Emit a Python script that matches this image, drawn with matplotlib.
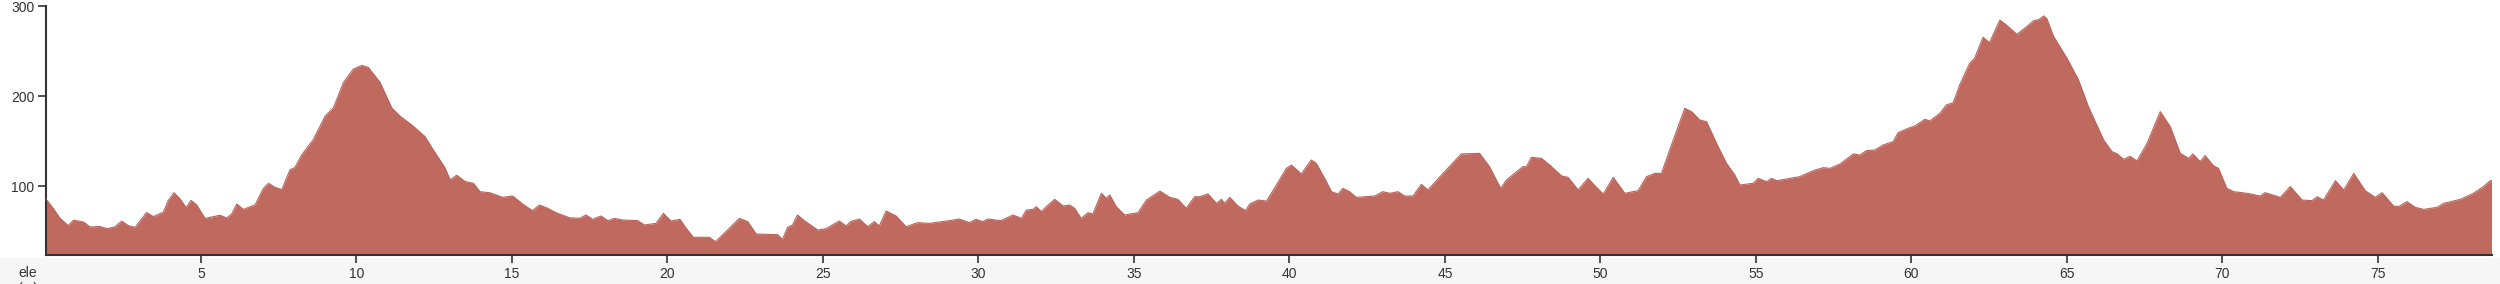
import numpy as np
import matplotlib.pyplot as plt
from matplotlib.patches import Rectangle

# ======================
# Elevation profile data (km, m)
# ======================

dist_km = [
    0.0, 0.03, 0.25, 0.47, 0.73, 0.90, 1.22, 1.43, 1.75, 1.97, 2.23, 2.45, 2.66, 2.88,
    3.25, 3.47, 3.79, 3.95, 4.13, 4.32, 4.52, 4.68, 4.86, 5.13, 5.40, 5.61, 5.83, 5.99,
    6.15, 6.36, 6.74, 7.00, 7.17, 7.38, 7.60, 7.86, 8.02, 8.24, 8.61, 8.99, 9.26, 9.58,
    9.90, 10.17, 10.38, 10.76, 11.13, 11.40, 11.77, 12.20, 12.47, 12.85, 13.01, 13.22,
    13.49, 13.76, 13.97, 14.29, 14.70, 15.02, 15.34, 15.66, 15.88, 16.15, 16.41, 16.84,
    17.17, 17.38, 17.59, 17.86, 18.08, 18.29, 18.56, 19.04, 19.26, 19.63, 19.87, 20.11,
    20.40, 20.60, 20.83, 21.35, 21.54, 21.77, 22.31, 22.58, 22.85, 23.54, 23.70, 23.86,
    24.02, 24.18, 24.40, 24.83, 25.10, 25.52, 25.74, 25.90, 26.17, 26.44, 26.65, 26.81,
    27.03, 27.35, 27.67, 28.05, 28.42, 29.06, 29.38, 29.71, 29.92, 30.13, 30.30, 30.72,
    31.11, 31.38, 31.54, 31.75, 31.86, 32.02, 32.18, 32.45, 32.72, 32.93, 33.09, 33.30,
    33.52, 33.68, 33.95, 34.11, 34.22, 34.43, 34.70, 35.13, 35.40, 35.83, 36.15, 36.41,
    36.68, 36.95, 37.11, 37.38, 37.65, 37.81, 37.91, 38.08, 38.34, 38.59, 38.72, 38.99,
    39.26, 39.58, 39.90, 40.06, 40.38, 40.70, 40.86, 41.13, 41.35, 41.56, 41.72, 41.93,
    42.15, 42.74, 43.00, 43.22, 43.49, 43.70, 43.97, 44.24, 44.45, 45.04, 45.52, 46.11,
    46.43, 46.79, 46.98, 47.30, 47.51, 47.62, 47.78, 48.10, 48.37, 48.75, 48.96, 49.28,
    49.60, 49.87, 50.09, 50.41, 50.78, 51.21, 51.48, 51.75, 51.96, 52.34, 52.71, 52.93,
    53.19, 53.41, 53.73, 54.05, 54.32, 54.48, 54.91, 55.07, 55.34, 55.50, 55.66, 56.41,
    56.84, 57.16, 57.38, 57.70, 58.13, 58.34, 58.55, 58.82, 59.09, 59.41, 59.57, 59.89,
    60.11, 60.43, 60.59, 60.91, 61.12, 61.34, 61.55, 61.87, 62.03, 62.30, 62.51, 62.84,
    63.05, 63.39, 63.70, 63.93, 64.10, 64.25, 64.35, 64.57, 65.00, 65.37, 65.69, 66.18,
    66.45, 66.60, 66.82, 67.03, 67.25, 67.57, 68.00, 68.32, 68.64, 68.91, 69.05, 69.28,
    69.44, 69.71, 69.87, 70.14, 70.36, 70.79, 71.21, 71.37, 71.86, 72.18, 72.56, 72.88,
    73.04, 73.25, 73.63, 73.90, 74.22, 74.59, 74.91, 75.13, 75.50, 75.66, 75.93, 76.20,
    76.47, 76.90, 77.11, 77.65, 78.07, 78.39, 78.61, 78.65,
]

ele_m = [
    86, 85, 75, 64, 56, 62, 60, 54.5, 55, 52.6, 54.5, 61, 56, 54,
    70.5, 66, 71, 84, 92.5, 86, 76, 84, 79, 64, 66, 67.5, 64.5, 69,
    80, 74, 79, 97, 103, 98.5, 96, 118, 120.5, 134.7, 151.5, 177.6, 187, 215,
    230, 234, 231.7, 215, 187, 177.6, 168, 155, 140, 120, 106.7, 112,
    105, 103, 93.7, 92.5, 87.4, 88.9, 80, 72.6, 78.9, 75.2, 70.4, 64.8,
    64, 67.8, 63, 66.7, 61.5, 64, 62.2, 61.5, 56.7, 58.5, 69.6, 61.1,
    63, 53, 43, 43, 38.1, 45.6, 64, 60.4, 46.7, 45.9, 40.7, 54,
    56.7, 67.8, 61.5, 51.1, 52.6, 61.1, 55.6, 60.7, 63.3, 54.8, 60.4, 55.6,
    72.2, 66.7, 54.8, 59.3, 58.5, 61.5, 63.3, 59.3, 63, 60.4, 63.3, 61.5,
    67.8, 64, 73.3, 74, 77, 71.5, 77, 85.2, 77.8, 78.9, 75.2, 64,
    70.4, 68.9, 91.9, 86.3, 90, 77, 67.8, 70.4, 84.4, 94.4, 87.4, 85.2,
    75.2, 88.1, 88.1, 91.1, 80.7, 85.2, 80.7, 87.4, 77.8, 72.6, 80, 84.4,
    83.3, 101.1, 119.6, 123.3, 113.3, 128.9, 125.2, 108.5, 93.7, 91.1, 97.4, 93.7,
    87.4, 88.9, 93.7, 91.9, 93.7, 88.9, 88.9, 101.9, 95.6, 117.8, 135.6, 136.3,
    121.5, 97.4, 106.7, 115.9, 121.5, 121.5, 131.9, 130.7, 123.3, 111.1, 109.6, 95.6,
    108.5, 98.5, 91.1, 109.6, 91.9, 94.8, 110.4, 114, 114, 151.1, 186.3, 182.6,
    173.3, 171.5, 147.4, 125.2, 112.2, 101.1, 103, 108.5, 104.8, 108.5, 105.9, 110.4,
    117, 120.4, 119.6, 124.4, 135.6, 134.4, 139.3, 140, 145.6, 149.3, 159.3, 164.1,
    166.7, 174.1, 172.2, 180.7, 190, 192.6, 212.2, 236.3, 241.9, 265.2, 259.3, 284.4,
    278.9, 268.5, 277, 283.7, 285, 289, 286, 266, 241.9, 217.8, 188, 151,
    138, 136, 129.6, 133, 127.8, 147, 182.6, 166, 136.3, 130.7, 135.6, 127,
    133.7, 122.6, 119.6, 97.4, 93.7, 91.9, 88.9, 92.6, 87.4, 99.3, 84.4, 83.7,
    88.1, 84.4, 105.9, 95.6, 114, 94.8, 87.4, 92.6, 77.8, 77, 82.6, 76.3,
    74, 76.3, 80.7, 85.2, 91.9, 99.3, 105.9, 105.9,
]

x_ticks = [5, 10, 15, 20, 25, 30, 35, 40, 45, 50, 55, 60, 65, 70, 75]
y_ticks = [100, 200, 300]

W, H = 2500, 284
fig = plt.figure(figsize=(W / 100, H / 100), dpi=100)
fig.patch.set_facecolor("white")

# light gray strip under the x axis (drawn behind the axes)
fig.patches.append(Rectangle((0, 0), 1, 26 / H, transform=fig.transFigure,
                             facecolor="#f6f6f6", edgecolor="none", zorder=-5))

ax = fig.add_axes([45.5 / W, 28.7 / H, (2491.5 - 45.5) / W, (278 - 28.7) / H])
ax.set_facecolor("none")

fill_color = "#c0695f"
ax.fill_between(dist_km, ele_m, 23, color=fill_color, linewidth=0, zorder=2)
ax.plot(dist_km, ele_m, color="#b8645a", linewidth=0.8, zorder=3)

ax.set_xlim(0, dist_km[-1])
ax.set_ylim(23, 300)
ax.set_xticks(x_ticks)
ax.set_xticklabels([str(t) for t in x_ticks])
ax.set_yticks(y_ticks)
ax.set_yticklabels([str(t) for t in y_ticks])

for side in ("top", "right"):
    ax.spines[side].set_visible(False)
for side in ("left", "bottom"):
    ax.spines[side].set_color("#333333")
    ax.spines[side].set_linewidth(1.5)

ax.tick_params(axis="both", colors="#333333", labelsize=10, length=6, width=1.2,
               labelcolor="#333333")
ax.tick_params(axis="x", pad=2.5)
ax.tick_params(axis="y", pad=2)
for lab in ax.get_xticklabels() + ax.get_yticklabels():
    lab.set_fontfamily("Liberation Sans")

# axis label sits in the lower-left corner, second line runs off the edge
fig.text(28 / W, 1 - 277 / H, "ele", ha="center", va="baseline",
         fontsize=10, color="#333333", family="Liberation Sans")
fig.text(28 / W, 1 - 293 / H, "(m)", ha="center", va="baseline",
         fontsize=10, color="#333333", family="Liberation Sans")

fig.savefig("out.png", dpi=100)
